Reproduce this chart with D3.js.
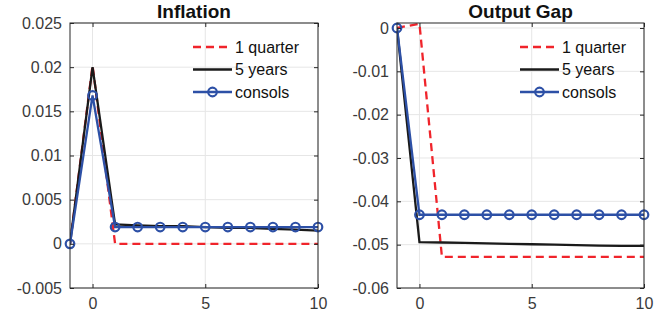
<!DOCTYPE html>
<html>
<head>
<meta charset="utf-8">
<script src="https://cdn.jsdelivr.net/npm/d3@7"></script>
<style>
  body { margin: 0; background: #fff; }
  text { font-family: "Liberation Sans", Arial, sans-serif; }
</style>
</head>
<body>
<div id="chart"></div>
<script>
//
// Impulse responses: inflation and output gap under three policy horizons
//
const periods = [-1, 0, 1, 2, 3, 4, 5, 6, 7, 8, 9, 10]
const seriesNames = ['1 quarter', '5 years', 'consols']

const inflationQuarter = [0, 0.0202, 0, 0, 0, 0, 0, 0, 0, 0, 0, 0]
const inflationFiveYears = [0, 0.0200, 0.0022, 0.0021, 0.0020, 0.0020, 0.0019, 0.0018, 0.0018, 0.0017, 0.0016, 0.0015]
const inflationConsols = [0, 0.0168, 0.0019, 0.0019, 0.0019, 0.0019, 0.0019, 0.0019, 0.0019, 0.0019, 0.0019, 0.0019]

const gapQuarter = [0, 0.0010, -0.0528, -0.0528, -0.0528, -0.0528, -0.0528, -0.0528, -0.0528, -0.0528, -0.0528, -0.0528]
const gapFiveYears = [0, -0.0494, -0.0495, -0.0496, -0.0497, -0.0498, -0.0499, -0.0500, -0.0501, -0.0502, -0.0503, -0.0503]
const gapConsols = [0, -0.0431, -0.0431, -0.0431, -0.0431, -0.0431, -0.0431, -0.0431, -0.0431, -0.0431, -0.0431, -0.0431]

const inflationTicks = [-0.005, 0, 0.005, 0.01, 0.015, 0.02, 0.025]
const gapTicks = [-0.06, -0.05, -0.04, -0.03, -0.02, -0.01, 0]
const xTicks = [0, 5, 10]

const W = 655
const H = 323

const svg = d3.select('#chart')
  .append('svg')
  .attr('width', W)
  .attr('height', H)

const panels = [
  {
    title: 'Inflation',
    left: 70, right: 318, top: 23, bottom: 288,
    yDomain: [-0.005, 0.025], yTicks: inflationTicks,
    series: [inflationQuarter, inflationFiveYears, inflationConsols],
    legendX: 193
  },
  {
    title: 'Output Gap',
    left: 397, right: 644, top: 23, bottom: 288,
    yDomain: [-0.06, 0.00115], yTicks: gapTicks,
    series: [gapQuarter, gapFiveYears, gapConsols],
    legendX: 520
  }
]

const styles = [
  { color: '#f0242b', dash: '8,5', marker: false },
  { color: '#1a1a1a', dash: null, marker: false },
  { color: '#2d50a6', dash: null, marker: true }
]

const axisColor = '#262626'
const labelColor = '#3a3a3a'

panels.forEach(function (p) {
  const x = d3.scaleLinear().domain([-1, 10]).range([p.left, p.right])
  const y = d3.scaleLinear().domain(p.yDomain).range([p.bottom, p.top])
  const g = svg.append('g')

  // grid
  g.selectAll('line.gx').data(xTicks).enter().append('line')
    .attr('x1', d => x(d)).attr('x2', d => x(d))
    .attr('y1', p.top).attr('y2', p.bottom)
    .attr('stroke', '#e6e6e6').attr('stroke-width', 1)
  g.selectAll('line.gy').data(p.yTicks).enter().append('line')
    .attr('x1', p.left).attr('x2', p.right)
    .attr('y1', d => y(d)).attr('y2', d => y(d))
    .attr('stroke', '#e6e6e6').attr('stroke-width', 1)

  // series
  const clipId = 'clip' + p.left
  svg.append('clipPath').attr('id', clipId)
    .append('rect')
    .attr('x', p.left).attr('y', p.top - 1)
    .attr('width', p.right - p.left).attr('height', p.bottom - p.top + 1)

  const line = d3.line()
    .x((d, i) => x(periods[i]))
    .y(d => y(d))

  const plot = g.append('g')
  p.series.forEach(function (values, k) {
    const s = styles[k]
    plot.append('path')
      .attr('d', line(values))
      .attr('fill', 'none')
      .attr('stroke', s.color)
      .attr('stroke-width', 2.3)
      .attr('stroke-dasharray', s.dash)
      .attr('clip-path', 'url(#' + clipId + ')')
    if (s.marker) {
      plot.selectAll('circle.m').data(values).enter().append('circle')
        .attr('cx', (d, i) => x(periods[i]))
        .attr('cy', d => y(d))
        .attr('r', 4.3)
        .attr('fill', 'none')
        .attr('stroke', s.color)
        .attr('stroke-width', 2.2)
    }
  })

  // axes box
  g.append('rect')
    .attr('x', p.left).attr('y', p.top)
    .attr('width', p.right - p.left).attr('height', p.bottom - p.top)
    .attr('fill', 'none').attr('stroke', axisColor).attr('stroke-width', 1)

  const yAxis = d3.axisLeft(y).tickValues(p.yTicks).tickSizeInner(-4).tickSizeOuter(0).tickPadding(8)
    .tickFormat(d => d3.format('~g')(d).replace('−', '-'))
  const yg = g.append('g').attr('transform', 'translate(' + p.left + ',0)').call(yAxis)
  yg.select('.domain').remove()
  yg.selectAll('line').attr('stroke', axisColor)
  yg.selectAll('text').attr('fill', labelColor).style('font-size', '16px')

  const yAxisR = d3.axisRight(y).tickValues(p.yTicks).tickSizeInner(-4).tickSizeOuter(0).tickFormat('')
  const yr = g.append('g').attr('transform', 'translate(' + p.right + ',0)').call(yAxisR)
  yr.select('.domain').remove()
  yr.selectAll('line').attr('stroke', axisColor)

  const xAxis = d3.axisBottom(x).tickValues(xTicks).tickSizeInner(-4).tickSizeOuter(0).tickPadding(10)
  const xg = g.append('g').attr('transform', 'translate(0,' + p.bottom + ')').call(xAxis)
  xg.select('.domain').remove()
  xg.selectAll('line').attr('stroke', axisColor)
  xg.selectAll('text').attr('fill', labelColor).style('font-size', '16px')

  const xAxisT = d3.axisTop(x).tickValues(xTicks).tickSizeInner(-4).tickSizeOuter(0).tickFormat('')
  const xt = g.append('g').attr('transform', 'translate(0,' + p.top + ')').call(xAxisT)
  xt.select('.domain').remove()
  xt.selectAll('line').attr('stroke', axisColor)

  // title (reference is clipped at the top edge; keep it just inside)
  g.append('text')
    .attr('x', (p.left + p.right) / 2)
    .attr('y', 17.5)
    .attr('text-anchor', 'middle')
    .attr('fill', '#111')
    .style('font-size', '19px')
    .style('font-weight', 'bold')
    .text(p.title)

  // legend
  const leg = g.append('g')
  seriesNames.forEach(function (name, k) {
    const s = styles[k]
    const ly = 47 + k * 22.5
    leg.append('line')
      .attr('x1', p.legendX).attr('x2', p.legendX + 39)
      .attr('y1', ly).attr('y2', ly)
      .attr('stroke', s.color).attr('stroke-width', 2.3)
      .attr('stroke-dasharray', s.dash)
    if (s.marker) {
      leg.append('circle')
        .attr('cx', p.legendX + 19.5).attr('cy', ly).attr('r', 4.3)
        .attr('fill', 'none').attr('stroke', s.color).attr('stroke-width', 2.2)
    }
    leg.append('text')
      .attr('x', p.legendX + 42)
      .attr('y', ly + 5.5)
      .attr('fill', '#111')
      .style('font-size', '16px')
      .text(name)
  })
})
</script>
</body>
</html>
